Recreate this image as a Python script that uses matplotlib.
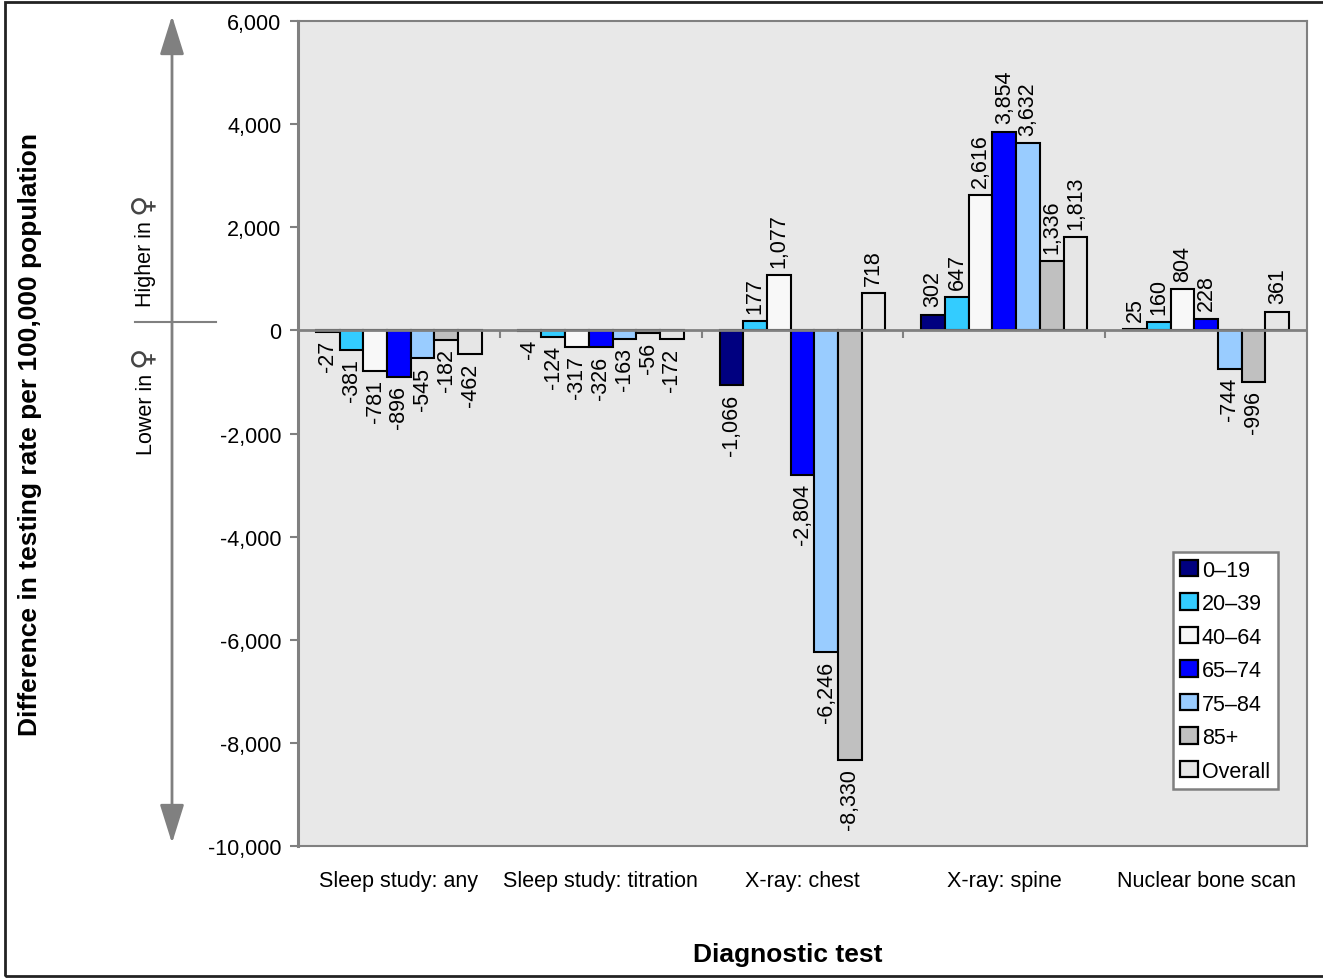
import matplotlib
matplotlib.use("Agg")
import matplotlib.pyplot as plt
import numpy as np
from matplotlib.patches import FancyArrowPatch, Rectangle
from matplotlib.lines import Line2D
import matplotlib.ticker as mticker

plt.rcParams['font.family'] = ['Liberation Sans', 'DejaVu Sans']

categories = ["Sleep study: any", "Sleep study: titration", "X-ray: chest",
              "X-ray: spine", "Nuclear bone scan"]
age_groups = ["0\u201319", "20\u201339", "40\u201364", "65\u201374", "75\u201384", "85+", "Overall"]
values = {
    "0\u201319":  [-27, -4, -1066, 302, 25],
    "20\u201339": [-381, -124, 177, 647, 160],
    "40\u201364": [-781, -317, 1077, 2616, 804],
    "65\u201374": [-896, -326, -2804, 3854, 228],
    "75\u201384": [-545, -163, -6246, 3632, -744],
    "85+":        [-182, -56, -8330, 1336, -996],
    "Overall":    [-462, -172, 718, 1813, 361],
}
colors = ["#000080", "#33CCFF", "#F8F8F8", "#0000FF", "#99CCFF", "#C0C0C0", "#E6E6E6"]
yticks = [-10000, -8000, -6000, -4000, -2000, 0, 2000, 4000, 6000]

W, H = 1323, 979
fig = plt.figure(figsize=(W / 100, H / 100), dpi=100)
ax = fig.add_axes([298 / W, 1 - 847 / H, (1307 - 298) / W, (847 - 22) / H])
ax.set_facecolor("#E8E8E8")

x = np.arange(len(categories))
w = 0.1175
n = len(age_groups)
for j, (g, c) in enumerate(zip(age_groups, colors)):
    xs = x + (j - (n - 1) / 2) * w
    ax.bar(xs, values[g], width=w, color=c, edgecolor="black", linewidth=1.5,
           label=g, zorder=2)
    for xi, v in zip(xs, values[g]):
        off = 6 if v >= 0 else -6
        ax.annotate(f"{v:,}", (xi, v), xytext=(0, off), textcoords="offset points",
                    rotation=90, ha="center", va="bottom" if v >= 0 else "top",
                    fontsize=15.5, color="black")

ax.set_xlim(-0.5, len(categories) - 0.5)
ax.set_ylim(-10000, 6000)
ax.set_yticks(yticks)
ax.yaxis.set_major_formatter(mticker.FuncFormatter(lambda v, p: f"{int(v):,}"))
ax.tick_params(axis='y', labelsize=15.5, length=6, width=1.5, color="#808080", pad=6)
ax.set_xticks(x)
ax.set_xticklabels(categories)
ax.tick_params(axis='x', labelsize=15.5, length=0, pad=17)

for s in ["top", "right", "bottom"]:
    ax.spines[s].set_color("#808080")
    ax.spines[s].set_linewidth(1.5)
ax.spines["left"].set_color("#808080")
ax.spines["left"].set_linewidth(2.2)

# zero axis line with category boundary ticks
ax.axhline(0, color="#808080", linewidth=2, zorder=3)
bounds = np.arange(len(categories) + 1) - 0.5
ax.plot(bounds[1:-1], np.zeros(len(bounds) - 2), linestyle="none", marker=3,
        markersize=6, markeredgewidth=1.5, color="#808080", zorder=3, clip_on=False)

leg = ax.legend(loc="lower left", bbox_to_anchor=(0.867, 0.069), fontsize=15.5,
                frameon=True, fancybox=False, edgecolor="#808080", facecolor="white",
                framealpha=1, handlelength=0.8, handleheight=0.8, handletextpad=0.2,
                labelspacing=0.58, borderpad=0.35, borderaxespad=0)
leg.get_frame().set_linewidth(1.8)
for h in leg.legend_handles:
    h.set_linewidth(1.6)

fig.text(30 / W, 1 - 435 / H, "Difference in testing rate per 100,000 population",
         rotation=90, ha="center", va="center", fontsize=19, fontweight="bold")
fig.text(788 / W, 1 - 955 / H, "Diagnostic test", ha="center", va="center",
         fontsize=19, fontweight="bold")

# double arrow on the left
arr = FancyArrowPatch((172 / W, 1 - 14 / H), (172 / W, 1 - 847 / H),
                      transform=fig.transFigure, arrowstyle="<|-|>,head_length=1.6,head_width=0.5",
                      mutation_scale=15, color="#808080", linewidth=2)
fig.add_artist(arr)
fig.add_artist(Line2D([135 / W, 216 / W], [1 - 323 / H, 1 - 323 / H],
                      transform=fig.transFigure, color="#808080", linewidth=1.5))
fig.text(146 / W, 1 - 264 / H, "Higher in", rotation=90, ha="center",
         va="center", fontsize=15.5)
fig.text(142 / W, 1 - 203 / H, "\u2640", rotation=90, ha="center",
         va="center", fontsize=21, family="DejaVu Sans", color="#444444")
fig.text(146 / W, 1 - 414 / H, "Lower in", rotation=90, ha="center",
         va="center", fontsize=15.5)
fig.text(142 / W, 1 - 356 / H, "\u2640", rotation=90, ha="center",
         va="center", fontsize=21, family="DejaVu Sans", color="#444444")

# figure border
fig.add_artist(Rectangle((5 / W, 2 / H), 1.2, (976 - 2) / H, transform=fig.transFigure,
                         fill=False, edgecolor="#222222", linewidth=2))

fig.savefig("out.png", dpi=100)
